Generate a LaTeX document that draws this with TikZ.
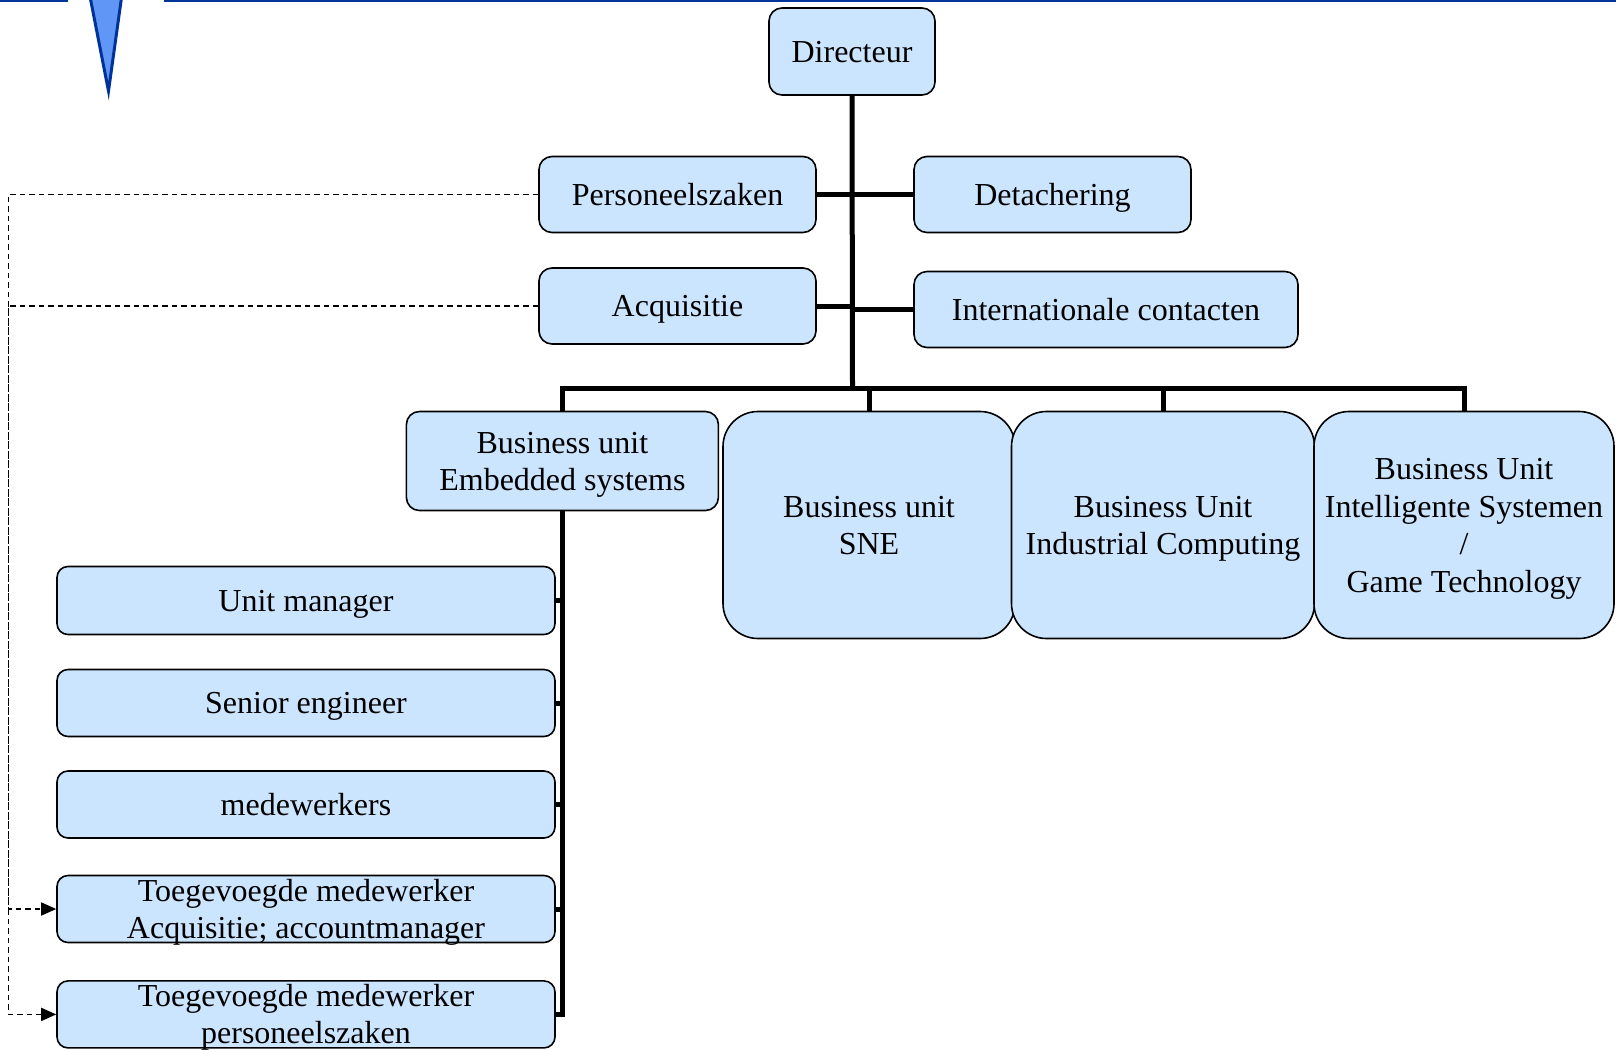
\documentclass[tikz,border=0pt]{standalone}
\usepackage{fontspec}
\setmainfont{Liberation Serif}
\usetikzlibrary{arrows.meta}
\definecolor{boxfill}{RGB}{204,229,255}
\definecolor{hdrblue}{RGB}{0,51,153}
\definecolor{trifill}{RGB}{96,150,245}
\newcommand\fs{\rule[-6.9pt]{0pt}{35.4pt}}
\begin{document}
\begin{tikzpicture}[x=1pt,y=-1pt,
  orgbox/.style={draw=black, line width=1.6pt, fill=boxfill, rounded corners=13pt, inner xsep=0pt, inner ysep=0pt, align=center, font=\fontsize{32}{37.5}\selectfont},
  bigbox/.style={orgbox, rounded corners=35pt},
  subbox/.style={orgbox, minimum width=498pt, minimum height=67pt, rounded corners=11pt},
  conn/.style={line width=5pt, black},
  dashline/.style={line width=1.7pt, dash pattern=on 5.5pt off 4pt, -{Triangle[length=15pt,width=13pt]}},
  hdr/.style={draw=hdrblue, line width=3.5pt}]
\useasboundingbox (0,0) rectangle (1616,1050);

% header decoration
\draw[hdr] (0,0) -- (68,0);
\draw[hdr] (164,0) -- (1616,0);
\filldraw[fill=trifill, draw=hdrblue, line width=3pt, line join=miter] (89.5,-6) -- (122,-6) -- (108.5,91) -- cycle;

% nodes
\node[orgbox, minimum width=166pt, minimum height=87pt] (dir) at (852,51.5) {\fs Directeur};
\node[orgbox, minimum width=277pt, minimum height=76pt] (pers) at (677.5,194.5) {\fs Personeelszaken};
\node[orgbox, minimum width=277pt, minimum height=76pt] (acq) at (677.5,306) {\fs Acquisitie};
\node[orgbox, minimum width=277pt, minimum height=76pt] (det) at (1052.5,194.5) {\fs Detachering};
\node[orgbox, minimum width=384pt, minimum height=76pt] (intl) at (1106,309.5) {\fs Internationale contacten};
\node[orgbox, minimum width=312pt, minimum height=99pt] (emb) at (562.4,461) {\fs Business unit\\\fs Embedded systems};
\node[bigbox, minimum width=292pt, minimum height=227pt] (sne) at (869,525) {\fs Business unit\\\fs SNE};
\node[bigbox, minimum width=303pt, minimum height=227pt] (ind) at (1163,525) {\fs Business Unit\\\fs Industrial Computing};
\node[bigbox, minimum width=300pt, minimum height=227pt] (intel) at (1464,525) {\fs Business Unit\\\fs Intelligente Systemen\\\fs /\\\fs Game Technology};
\node[subbox, minimum height=68pt] (um) at (306,600.5) {\fs Unit manager};
\node[subbox] (se) at (306,703) {\fs Senior engineer};
\node[subbox] (mw) at (306,804.5) {\fs medewerkers};
\node[subbox, inner ysep=-4pt] (tA) at (306,909) {\fs Toegevoegde medewerker\\\fs Acquisitie; accountmanager};
\node[subbox, inner ysep=-4pt] (tP) at (306,1014.4) {\fs Toegevoegde medewerker\\\fs personeelszaken};

\coordinate (bar) at (852.5,388);
\coordinate (dl) at (8.5,0);

% solid connectors
\draw[conn] (dir.south) -- (bar);
\draw[conn] (emb.north) |- (bar) -| (intel.north);
\draw[conn] (sne.north) -- (sne.north |- bar);
\draw[conn] (ind.north) -- (ind.north |- bar);
\draw[conn] (pers.east) -- (det.west);
\draw[conn] (acq.east) -- (acq.east -| bar);
\draw[conn] (intl.west) -- (intl.west -| bar);
\draw[conn] (emb.south) |- (tP.east);
\draw[conn] (um.east) -- (um.east -| emb.south);
\draw[conn] (se.east) -- (se.east -| emb.south);
\draw[conn] (mw.east) -- (mw.east -| emb.south);
\draw[conn] (tA.east) -- (tA.east -| emb.south);

% dashed connectors
\draw[dashline] (pers.west) -| (dl |- tP.west) -- (tP.west);
\draw[dashline] (acq.west) -| (dl |- tA.west) -- (tA.west);
\end{tikzpicture}
\end{document}
